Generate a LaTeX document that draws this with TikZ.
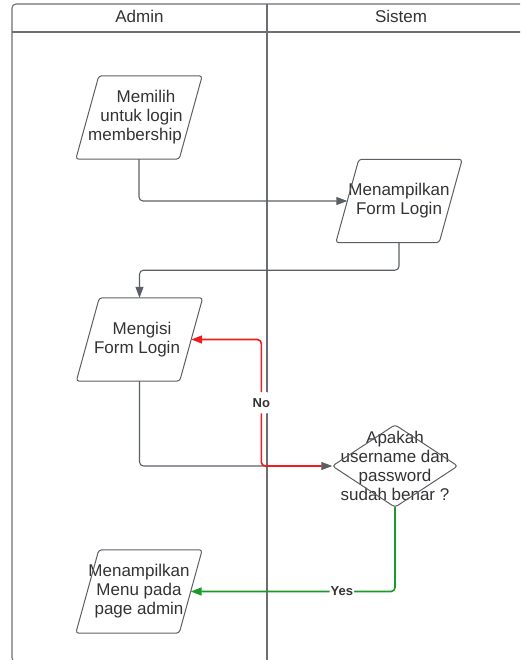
\documentclass[tikz,border=0pt]{standalone}
\usepackage{fontspec}
\setmainfont{Liberation Sans}
\usetikzlibrary{arrows.meta,calc}
\definecolor{ink}{HTML}{333333}
\definecolor{edge}{HTML}{5A5F66}
\definecolor{lane}{HTML}{6B6F75}
\definecolor{nored}{HTML}{EE1C1C}
\definecolor{yesgreen}{HTML}{1A9A2A}
\begin{document}
\begin{tikzpicture}[x=1pt,y=-1pt,
  txt/.style={font=\fontsize{17}{19}\selectfont, text=ink, align=center},
  box/.style={txt, rectangle, minimum width=103pt, minimum height=83pt, inner sep=0pt},
  tip/.style={-{Triangle[length=11pt,width=8pt]}},
  outline/.style={draw=edge, line width=1pt, rounded corners=3pt},
  flow/.style={draw=edge, line width=1.1pt, rounded corners=4pt, tip},
  noflow/.style={draw=nored, line width=1.6pt, rounded corners=4pt, tip},
  yesflow/.style={draw=yesgreen, line width=1.6pt, rounded corners=4pt, tip},
  lbl/.style={font=\fontsize{13}{15}\selectfont\bfseries, text=ink, fill=white, inner xsep=1pt},
  laneline/.style={draw=lane, line width=1.1pt}
]
\useasboundingbox (0,0) rectangle (520,660);

% swimlane frame
\begin{scope}
  \clip (0,0) rectangle (520,660);
  \draw[laneline, rounded corners=4pt] (12,4) rectangle (535,662);
  \draw[laneline] (12,32) -- (535,32);
  \draw[laneline] (267,4) -- (267,662);
\end{scope}
\node[txt] (hA) at (139.5,16) {Admin};
\node[txt] (hS) at (401,16) {Sistem};

% process steps
\node[box] (m1) at (139,117.5)
  {\hspace*{14pt}Memilih\\\hspace*{5pt}untuk login\\membership\hspace*{8pt}};
\node[box] (f1) at (399,201) {Menampilkan\\Form Login};
\node[box] (m2) at (139.5,339.5) {\hspace*{5pt}Mengisi\\Form Login\hspace*{5pt}};
\node[box] (m3) at (139,591.5) {Menampilkan\\Menu pada\\page admin};
\node[txt, minimum width=125pt, minimum height=82pt, inner sep=0pt] (q) at (395,466)
  {Apakah\\username dan\\password\\sudah benar ?};

\foreach \n in {m1,f1,m2,m3}
  \draw[outline] ($(\n.north west)+(11.5,0)$) -- ($(\n.north east)+(11.5,0)$)
    -- ($(\n.south east)+(-11.5,0)$) -- ($(\n.south west)+(-11.5,0)$) -- cycle;
\draw[outline] (q.west) -- (q.north) -- (q.east) -- (q.south) -- cycle;

% connectors
\draw[flow] (m1.south) |- (f1.west);
\draw[flow] (f1.south) -- ([yshift=-27.5pt]f1.south) -| (m2.north);
\draw[flow] (m2.south) |- (q.west);
\draw[noflow] ([xshift=-11pt]q.west) -- ++(-60,0) |- (m2.east)
  node[lbl, pos=0.25, inner ysep=6pt] {No};
\draw[yesflow] (q.south) |- (m3.east)
  node[lbl, pos=0.63, inner ysep=1pt] {Yes};
\end{tikzpicture}
\end{document}
